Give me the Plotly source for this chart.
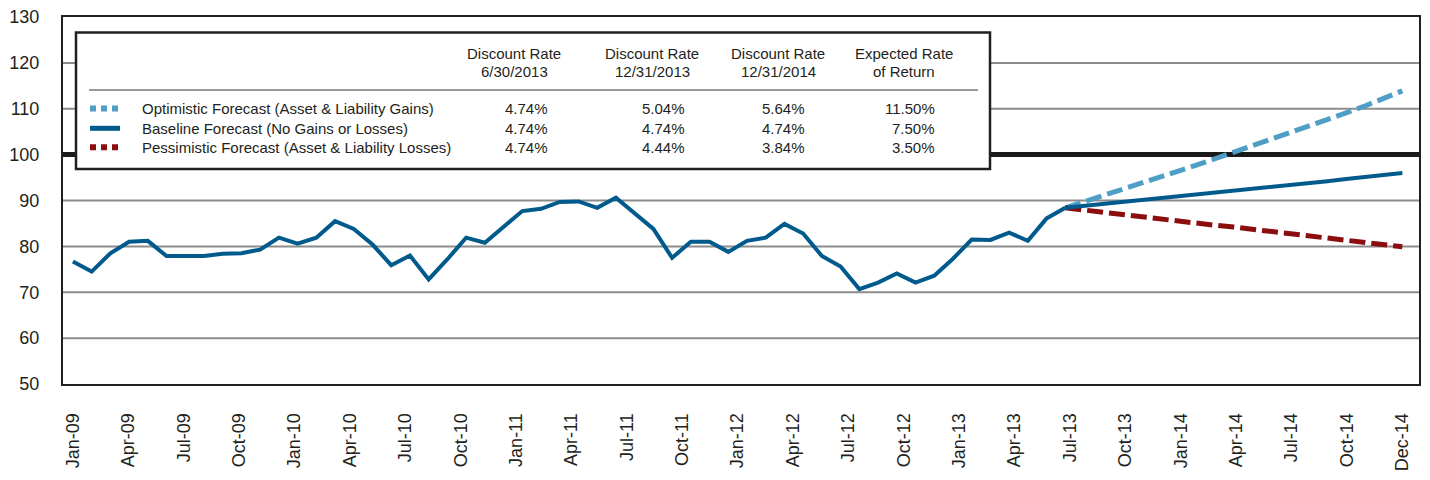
import numpy as np
import plotly.graph_objects as go

# ---------------- data ----------------
months = ["Jan-09", "Feb-09", "Mar-09", "Apr-09", "May-09", "Jun-09", "Jul-09", "Aug-09", "Sep-09", "Oct-09", "Nov-09", "Dec-09",
          "Jan-10", "Feb-10", "Mar-10", "Apr-10", "May-10", "Jun-10", "Jul-10", "Aug-10", "Sep-10", "Oct-10", "Nov-10", "Dec-10",
          "Jan-11", "Feb-11", "Mar-11", "Apr-11", "May-11", "Jun-11", "Jul-11", "Aug-11", "Sep-11", "Oct-11", "Nov-11", "Dec-11",
          "Jan-12", "Feb-12", "Mar-12", "Apr-12", "May-12", "Jun-12", "Jul-12", "Aug-12", "Sep-12", "Oct-12", "Nov-12", "Dec-12",
          "Jan-13", "Feb-13", "Mar-13", "Apr-13", "May-13", "Jun-13", "Jul-13", "Aug-13", "Sep-13", "Oct-13", "Nov-13", "Dec-13",
          "Jan-14", "Feb-14", "Mar-14", "Apr-14", "May-14", "Jun-14", "Jul-14", "Aug-14", "Sep-14", "Oct-14", "Nov-14", "Dec-14"]

historical = [76.7, 74.5, 78.5, 81.0, 81.2, 77.9, 77.9, 77.9, 78.4, 78.5, 79.3, 81.9,
              80.6, 81.9, 85.5, 83.8, 80.4, 75.9, 78.0, 72.8, 77.2, 81.9, 80.8, 84.2,
              87.7, 88.2, 89.7, 89.8, 88.4, 90.6, 87.1, 83.8, 77.5, 81.0, 81.0, 78.8,
              81.2, 81.9, 84.9, 82.8, 77.9, 75.6, 70.7, 72.1, 74.1, 72.1, 73.6, 77.3,
              81.5, 81.4, 83.0, 81.2, 86.1, 88.4]

# forecasts start at Jun-13 (index 53) and run to Dec-14
optimistic = [88.4, 89.7, 91.0, 92.3, 93.6, 95.0, 96.3, 97.7, 99.1, 100.5,
              101.9, 103.3, 104.7, 106.2, 107.6, 109.1, 110.6, 112.2, 113.9]
baseline = [88.4, 88.8, 89.2, 89.6, 90.0, 90.4, 90.8, 91.2, 91.6, 92.1,
            92.5, 92.9, 93.4, 93.8, 94.2, 94.7, 95.1, 95.6, 96.0]
pessimistic = [88.4, 87.9, 87.5, 87.0, 86.5, 86.0, 85.6, 85.1, 84.6, 84.2,
               83.7, 83.2, 82.8, 82.3, 81.8, 81.4, 80.9, 80.4, 79.9]

tick_labels = ["Jan-09", "Apr-09", "Jul-09", "Oct-09", "Jan-10", "Apr-10", "Jul-10", "Oct-10",
               "Jan-11", "Apr-11", "Jul-11", "Oct-11", "Jan-12", "Apr-12", "Jul-12", "Oct-12",
               "Jan-13", "Apr-13", "Jul-13", "Oct-13", "Jan-14", "Apr-14", "Jul-14", "Oct-14", "Dec-14"]
y_ticks = [50, 60, 70, 80, 90, 100, 110, 120, 130]
target_level = 100

series_names = ["Optimistic Forecast (Asset & Liability Gains)",
                "Baseline Forecast (No Gains or Losses)",
                "Pessimistic Forecast (Asset & Liability Losses)"]
col_headers = [("Discount Rate", "6/30/2013"), ("Discount Rate", "12/31/2013"),
               ("Discount Rate", "12/31/2014"), ("Expected Rate", "of Return")]
table_values = [["4.74%", "5.04%", "5.64%", "11.50%"],
                ["4.74%", "4.74%", "4.74%", "7.50%"],
                ["4.74%", "4.44%", "3.84%", "3.50%"]]

# ---------------- styles ----------------
C_BASE = "#005a8c"
C_OPT = "#4f9ec6"
C_PES = "#8b0d0d"
TXT = "#231f20"
FONT = "Liberation Sans, Arial, Helvetica, sans-serif"

W, H = 1430, 480
ML, MR, MT, MB = 63, 11, 17, 96
PW, PH = W - ML - MR, H - MT - MB

def px(x):
    return (x - ML) / PW

def py(y):
    return 1 - (y - MT) / PH

hist_x = list(range(len(historical)))
fc_start = len(historical) - 1
fc_x = list(range(fc_start, fc_start + len(baseline)))

fig = go.Figure()
fig.add_trace(go.Scatter(x=fc_x, y=optimistic, mode="lines",
                         line=dict(color=C_OPT, width=5, dash="16px,6px"), name=series_names[0]))
fig.add_trace(go.Scatter(x=fc_x, y=pessimistic, mode="lines",
                         line=dict(color=C_PES, width=5, dash="16px,6px"), name=series_names[2]))
fig.add_trace(go.Scatter(x=fc_x, y=baseline, mode="lines",
                         line=dict(color=C_BASE, width=4), name=series_names[1]))
fig.add_trace(go.Scatter(x=hist_x, y=historical, mode="lines",
                         line=dict(color=C_BASE, width=4), name="Funded Ratio"))

# gridlines (drawn as shapes so the 100 line can be heavy and black)
for v in y_ticks[1:-1]:
    if v == target_level:
        fig.add_shape(type="line", xref="paper", x0=0, x1=1, yref="y", y0=v, y1=v,
                      line=dict(color="#1a1a1a", width=5), layer="below")
    else:
        fig.add_shape(type="line", xref="paper", x0=0, x1=1, yref="y", y0=v, y1=v,
                      line=dict(color="#8c8c8c", width=2), layer="below")

# ---------------- legend / table box ----------------
box_l, box_t, box_r, box_b = 76, 32.5, 990, 169
fig.add_shape(type="rect", xref="paper", yref="paper",
              x0=px(box_l), x1=px(box_r), y0=py(box_b), y1=py(box_t),
              line=dict(color="#231f20", width=2.5), fillcolor="white", layer="above")
fig.add_shape(type="line", xref="paper", yref="paper",
              x0=px(89), x1=px(978), y0=py(90), y1=py(90),
              line=dict(color="#9a9a9a", width=2), layer="above")

row_y = [108.5, 128.3, 147.2]
sym_styles = [dict(color=C_OPT, width=6, dash="6px,5px"),
              dict(color=C_BASE, width=5),
              dict(color=C_PES, width=6, dash="6px,5px")]
for ry, st in zip(row_y, sym_styles):
    fig.add_shape(type="line", xref="paper", yref="paper",
                  x0=px(90), x1=px(120), y0=py(ry), y1=py(ry), line=st, layer="above")

annots = []
for ry, name in zip(row_y, series_names):
    annots.append(dict(x=px(140), y=py(ry), text=name, xanchor="left", yanchor="middle"))

col_centers = [514, 652, 778, 904]
col_rights = [550, 687, 807, 937]
for cx, (h1, h2) in zip(col_centers, col_headers):
    annots.append(dict(x=px(cx), y=py(53), text=h1, xanchor="center", yanchor="middle"))
    annots.append(dict(x=px(cx), y=py(71.7), text=h2, xanchor="center", yanchor="middle"))
for ry, vals in zip(row_y, table_values):
    for cr, v in zip(col_rights, vals):
        annots.append(dict(x=px(cr), y=py(ry), text=v, xanchor="right", yanchor="middle"))

for a in annots:
    a.update(xref="paper", yref="paper", showarrow=False,
             font=dict(family=FONT, size=15, color=TXT))
fig.update_layout(annotations=annots)

# ---------------- axes ----------------
fig.update_xaxes(range=[-0.53, 71.89], tickmode="array",
                 tickvals=list(np.linspace(0, len(months) - 1, len(tick_labels))),
                 ticktext=tick_labels, tickangle=-90, showgrid=False, zeroline=False,
                 showline=True, mirror=True, linecolor="#231f20", linewidth=2,
                 ticks="", ticklabelstandoff=20, automargin=False,
                 tickfont=dict(family=FONT, size=18, color=TXT))
fig.update_yaxes(range=[50, 130], tickmode="array", tickvals=y_ticks,
                 showgrid=False, zeroline=False,
                 showline=True, mirror=True, linecolor="#231f20", linewidth=2,
                 ticks="", ticklabelstandoff=18, automargin=False,
                 tickfont=dict(family=FONT, size=18, color=TXT))

fig.update_layout(width=W, height=H, margin=dict(l=ML, r=MR, t=MT, b=MB, autoexpand=False),
                  paper_bgcolor="white", plot_bgcolor="white", showlegend=False,
                  font=dict(family=FONT, color=TXT))

fig.write_html("out.html", config={"displayModeBar": False},
               post_script="document.body.style.margin='0px';")
